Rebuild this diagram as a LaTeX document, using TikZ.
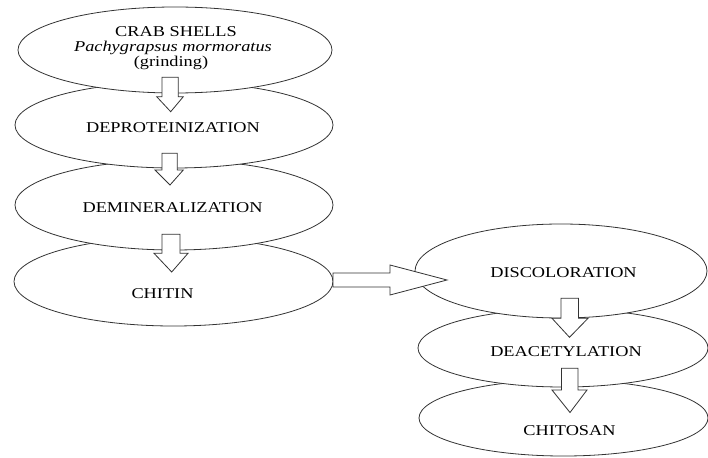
\documentclass[tikz,border=0pt]{standalone}
\usepackage{fontspec}
\setmainfont{Liberation Serif}[FakeStretch=1.22]
\usetikzlibrary{shapes.geometric}
\begin{document}
\begin{tikzpicture}[x=1pt,y=-1pt,
  ell/.style={ellipse, draw=black!80, fill=white, line width=0.8pt, inner sep=0pt},
  lbl/.style={font=\fontsize{15}{17}\selectfont, inner sep=0pt, anchor=base, text=black},
  barrow/.style={draw=black!80, fill=white, line width=0.8pt, line join=miter}]
\useasboundingbox (0,0) rectangle (708,457);
\clip (0,0) rectangle (708,457);
% left chain (bottom first so upper ellipses overlap)
\node[ell, minimum width=319pt, minimum height=89pt] (e4) at (173.5,281.5) {};
\node[ell, minimum width=318pt, minimum height=90pt] (e3) at (174,205) {};
\node[ell, minimum width=318pt, minimum height=86pt] (e2) at (174,125) {};
\node[ell, minimum width=314pt, minimum height=86pt] (e1) at (175,50) {};
% right chain
\node[ell, minimum width=289pt, minimum height=76pt] (e7) at (563.5,418) {};
\node[ell, minimum width=290pt, minimum height=78pt] (e6) at (563,348) {};
\node[ell, minimum width=292pt, minimum height=94pt] (e5) at (561,271) {};
% labels
\node[lbl] (t1a) at (176,37) {CRAB SHELLS};
\node[lbl] (t1b) at (173,51.5) {\itshape Pachygrapsus mormoratus};
\node[lbl] (t1c) at (171,66.3) {(grinding)};
\node[lbl] (t2) at (173,132.3) {DEPROTEINIZATION};
\node[lbl] (t3) at (172.5,212) {DEMINERALIZATION};
\node[lbl] (t4) at (162.5,298) {CHITIN};
\node[lbl] (t5) at (563.5,277) {DISCOLORATION};
\node[lbl] (t6) at (566,356) {DEACETYLATION};
\node[lbl] (t7) at (569.5,435) {CHITOSAN};
% block arrows
\draw[barrow] (162,77.3) -- (178.3,77.3) -- (178.3,96.7) -- (183.3,96.7) -- (170.7,111.7) -- (156.7,96.7) -- (162,96.7) -- cycle;
\draw[barrow] (162,153.3) -- (177.3,153.3) -- (177.3,170) -- (183.3,170) -- (170,185) -- (155,170) -- (162,170) -- cycle;
\draw[barrow] (162,234.3) -- (180,234.3) -- (180,253.3) -- (188,253.3) -- (171.7,272) -- (154,253.3) -- (162,253.3) -- cycle;
\draw[barrow] (333,273) -- (390,273) -- (390,265) -- (447,280) -- (390,295) -- (390,287) -- (333,287) -- cycle;
\draw[barrow] (561,298.3) -- (578.5,298.3) -- (578.5,318.3) -- (588,318.3) -- (569.5,337.3) -- (552,318.3) -- (561,318.3) -- cycle;
\draw[barrow] (561.5,368.3) -- (578,368.3) -- (578,390) -- (587,390) -- (570,412.5) -- (552,390) -- (561.5,390) -- cycle;
\end{tikzpicture}
\end{document}
